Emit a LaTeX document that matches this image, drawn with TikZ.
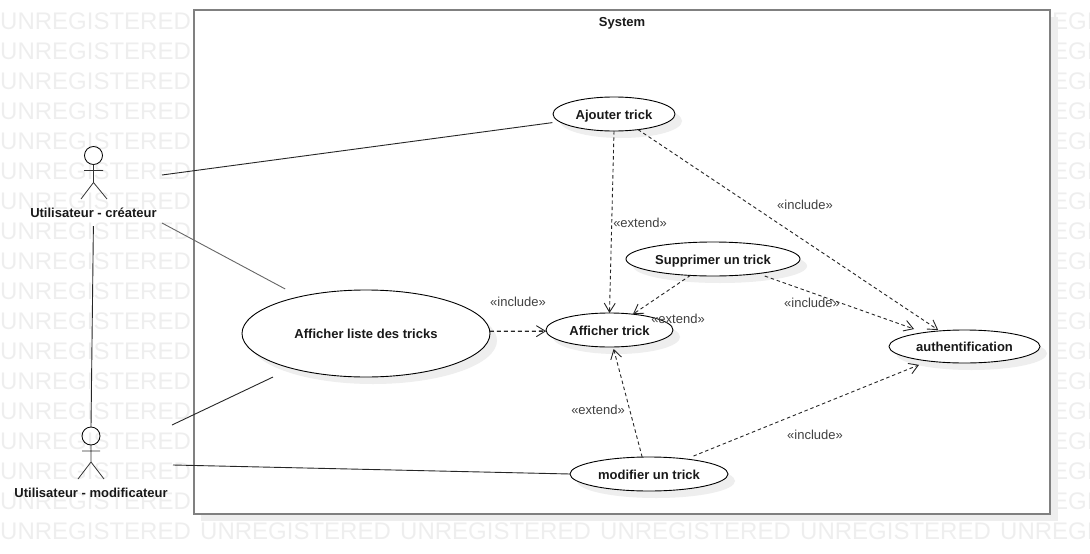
\documentclass[tikz,border=0pt]{standalone}
\usepackage{fontspec}
\setmainfont{Liberation Sans}
\usetikzlibrary{arrows.meta,shapes.geometric,shadows}
\definecolor{wmark}{HTML}{EEEEEE}
\definecolor{softshadow}{HTML}{EEEEEE}
\definecolor{frame}{HTML}{808080}
\definecolor{lbl}{HTML}{404040}
\tikzset{
  x=1pt,y=-1pt,
  watermark/.style={anchor=west,inner sep=0pt,text=wmark,font=\fontsize{24}{28}\selectfont},
  usecase/.style={ellipse,draw=black,line width=0.9pt,fill=white,inner sep=0pt,outer sep=0pt,
    font=\fontsize{13}{15}\selectfont\bfseries,text=black!90,text height=10pt,text depth=0pt,
    general shadow={shadow xshift=7pt,shadow yshift=-7pt,fill=softshadow}},
  actorhead/.style={circle,draw=black,line width=0.8pt,minimum size=18pt,inner sep=0pt,outer sep=0pt},
  actorlimb/.style={draw=black!80,line width=0.8pt},
  actorname/.style={inner sep=0pt,font=\fontsize{13}{15}\selectfont\bfseries,text=black!90,text height=10pt,text depth=0pt},
  stereotype/.style={inner sep=0pt,font=\fontsize{13}{15}\selectfont,text=lbl,text height=10pt,text depth=0pt},
  relation/.style={draw=black!85,line width=0.9pt,dash pattern=on 3.5pt off 2.8pt,
    -{Straight Barb[length=9pt,width=11pt,line width=0.9pt]}},
  association/.style={draw=black!85,line width=0.9pt}
}
\begin{document}
\begin{tikzpicture}
\useasboundingbox (0,0) rectangle (1090,554);
% watermark grid
\begin{scope}
\clip (0,0) rectangle (1090,554);
\foreach \col in {0,1,...,5}{
  \foreach \row in {0,1,...,17}{
    \node[watermark] (wm-\col-\row) at ({\col*200},{21.5+\row*30}) {UNREGISTERED};
  }
}
\end{scope}
% system frame
\fill[softshadow] (200.5,17) rectangle (1057.5,521);
\node[draw=frame,line width=2.6pt,fill=white,inner sep=0pt,outer sep=0pt,
      minimum width=856pt,minimum height=504pt] (system) at (622,262) {};
\node[actorname] (systemtitle) at (622,22) {System};
% actors
\node[actorhead] (a1head) at (93.5,155.5) {};
\draw[actorlimb] (a1head.south) -- ++(0,18) coordinate (a1hip) (a1hip) -- (81,199) (a1hip) -- (107,199) (84,170.5) -- (103,170.5);
\node[actorname] (a1label) at (93.5,212) {Utilisateur - créateur};
\node[actorhead] (a2head) at (91,436) {};
\draw[actorlimb] (a2head.south) -- ++(0,17) coordinate (a2hip) (a2hip) -- (78,479) (a2hip) -- (104,479) (82,451) -- (100,451);
\node[actorname] (a2label) at (91,492) {Utilisateur - modificateur};
% use cases
\node[usecase,minimum width=122pt,minimum height=34pt] (ajouter) at (614,114) {Ajouter trick};
\node[usecase,minimum width=174pt,minimum height=34pt] (supprimer) at (713,259) {Supprimer un trick};
\node[usecase,minimum width=127pt,minimum height=34pt] (afficher) at (609.5,330) {Afficher trick};
\node[usecase,minimum width=248pt,minimum height=87pt] (liste) at (366,333.5) {Afficher liste des tricks};
\node[usecase,minimum width=151pt,minimum height=33pt] (auth) at (964.5,346.5) {authentification};
\node[usecase,minimum width=158pt,minimum height=34pt] (modifier) at (649,474) {modifier un trick};
% free ends of associations
\coordinate (a1right) at (162,175);
\coordinate (a1lower) at (162,223);
\coordinate (a2upper) at (172,425);
\coordinate (a2lower) at (173,465);
% associations
\draw[association,shorten >=7.3pt] (a1right) -- (ajouter.188.5);
\draw[association,draw=black!60,shorten >=16.5pt] (a1lower) -- (liste.151.1);
\draw[association,shorten >=20.5pt] (a2upper) -- (liste.205);
\draw[association] (a2lower) -- (modifier.west);
\draw[association,shorten <=9pt] (a1label.south) -- (a2head.north);
% include / extend
\draw[relation] (ajouter.south) -- (afficher.north);
\draw[relation,shorten >=1.7pt] (ajouter.327) -- (auth.148.4);
\draw[relation] (supprimer.216) -- (afficher.34);
\draw[relation,shorten <=7.4pt,shorten >=10.6pt] (supprimer.342.1) -- (auth.161);
\draw[relation,line width=1.3pt,dash pattern=on 4pt off 3pt] (liste.1) -- (afficher.181.5);
\draw[relation,shorten >=2pt] (modifier.112) -- (afficher.282);
\draw[relation,shorten <=7.9pt,shorten >=10.3pt] (modifier.22.4) -- (auth.202.8);
% stereotypes
\node[stereotype] (s1) at (518,301.5) {«include»};
\node[stereotype] (s2) at (640,222.5) {«extend»};
\node[stereotype] (s3) at (678,318.5) {«extend»};
\node[stereotype] (s4) at (805,204.5) {«include»};
\node[stereotype] (s5) at (812,302.5) {«include»};
\node[stereotype] (s6) at (598,409.5) {«extend»};
\node[stereotype] (s7) at (815,434.5) {«include»};
\end{tikzpicture}
\end{document}
